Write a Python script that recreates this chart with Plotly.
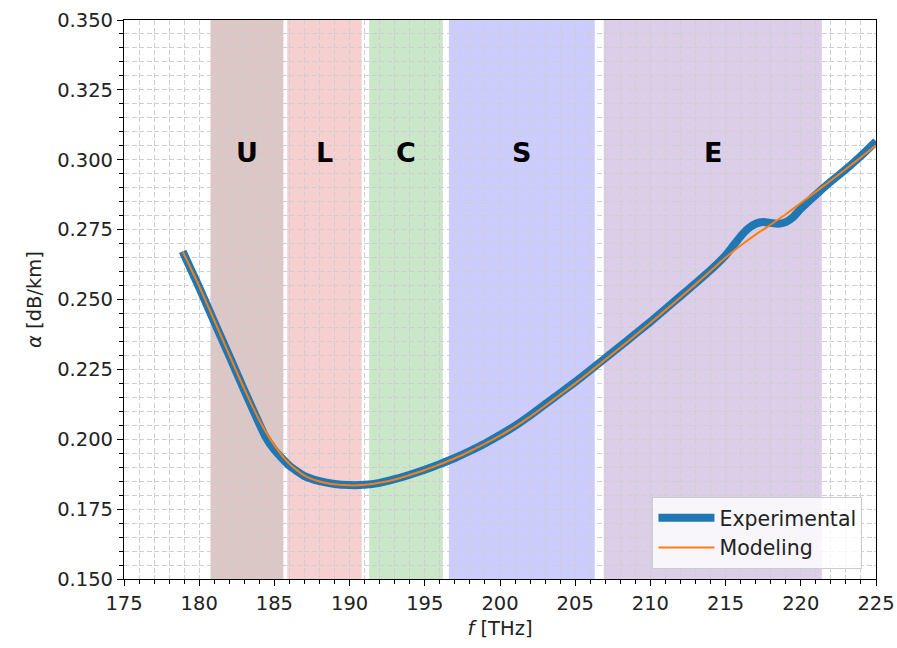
import plotly.graph_objects as go

# ---- data ----
freq_exp = [178.9, 180, 181, 182, 183, 184, 184.4, 185, 186, 187, 188, 189, 190, 191, 192,
            193, 194, 195, 196, 197, 198, 199, 200, 201, 202, 203, 204, 205, 206, 207, 208,
            209, 210, 211, 212, 213, 214, 215, 215.5, 216, 216.5, 217, 217.5, 218, 218.5,
            219, 219.5, 220, 221, 222, 223, 224, 225]
alpha_exp = [0.2672, 0.2543, 0.2420, 0.2298, 0.2175, 0.2055, 0.2010, 0.1962, 0.1905, 0.1868,
             0.1850, 0.1840, 0.1836, 0.1837, 0.1844, 0.1857, 0.1873, 0.1891, 0.1911, 0.1933,
             0.1958, 0.1985, 0.2015, 0.2048, 0.2085, 0.2125, 0.2165, 0.2205, 0.2247, 0.2290,
             0.2333, 0.2377, 0.2420, 0.2466, 0.2512, 0.2558, 0.2605, 0.2658, 0.2692, 0.2726,
             0.2754, 0.2771, 0.2777, 0.2774, 0.2771, 0.2777, 0.2795, 0.2825, 0.2875, 0.2922,
             0.2966, 0.3014, 0.3066]

freq_mod = [178.9, 180, 181, 182, 183, 184, 185, 186, 187, 188, 189, 190, 191, 192, 193, 194,
            195, 196, 197, 198, 199, 200, 201, 202, 203, 204, 205, 206, 207, 208, 209, 210,
            211, 212, 213, 214, 215, 216, 217, 218, 219, 220, 221, 222, 223, 224, 225]
alpha_mod = [0.2672, 0.2548, 0.2425, 0.2302, 0.2180, 0.2068, 0.1978, 0.1912, 0.1870, 0.1849,
             0.1839, 0.1835, 0.1837, 0.1844, 0.1856, 0.1872, 0.1890, 0.1910, 0.1932, 0.1957,
             0.1984, 0.2013, 0.2045, 0.2081, 0.2120, 0.2160, 0.2200, 0.2242, 0.2285, 0.2328,
             0.2372, 0.2417, 0.2462, 0.2508, 0.2555, 0.2602, 0.2650, 0.2693, 0.2732, 0.2768,
             0.2805, 0.2845, 0.2885, 0.2926, 0.2967, 0.3009, 0.3052]

band_names = ["U", "L", "C", "S", "E"]
band_start = [180.75, 185.85, 191.3, 196.6, 206.9]
band_end = [185.6, 190.8, 196.2, 206.3, 221.4]
band_colors = ["rgba(140,70,65,0.30)", "rgba(214,39,40,0.22)", "rgba(44,160,44,0.25)",
               "rgba(0,0,255,0.20)", "rgba(148,103,189,0.33)"]
band_label_y = 0.3025

x_ticks = [175, 180, 185, 190, 195, 200, 205, 210, 215, 220, 225]
y_ticks = [0.150, 0.175, 0.200, 0.225, 0.250, 0.275, 0.300, 0.325, 0.350]

FONT = "DejaVu Sans"
FS = 19.5

fig = go.Figure()

fig.add_trace(go.Scatter(x=freq_exp, y=alpha_exp, mode="lines", name="Experimental",
                         line=dict(color="#1f77b4", width=8, shape="spline", smoothing=0.5)))
fig.add_trace(go.Scatter(x=freq_mod, y=alpha_mod, mode="lines", name="Modeling",
                         line=dict(color="#ff7f0e", width=2, shape="spline", smoothing=0.6)))

for n, s, e, c in zip(band_names, band_start, band_end, band_colors):
    fig.add_shape(type="rect", xref="x", yref="y domain", x0=s, x1=e, y0=0, y1=1,
                  fillcolor=c, line_width=0, layer="below")
    fig.add_annotation(x=(s + e) / 2, y=band_label_y, text="<b>%s</b>" % n, showarrow=False,
                       font=dict(family=FONT, size=27, color="black"))

grid_col = "#cfcfcf"
GDASH = "5px,2.5px"
axis_common = dict(
    showline=True, linecolor="black", linewidth=1.2, mirror=True,
    ticks="outside", ticklen=6, tickwidth=1.2, tickcolor="black",
    showgrid=True, gridcolor=grid_col, gridwidth=1, griddash=GDASH,
    zeroline=False, automargin=False,
    tickfont=dict(family=FONT, size=FS, color="#222"),
)

fig.update_xaxes(range=[175, 225], tickvals=x_ticks, ticktext=[str(v) for v in x_ticks],
                 minor=dict(dtick=1, tick0=175, ticks="outside", ticklen=3.5, tickcolor="black",
                            showgrid=True, gridcolor=grid_col, griddash=GDASH, gridwidth=1),
                 title=dict(text="<i>f</i> [THz]", font=dict(family=FONT, size=FS, color="#222"),
                            standoff=7),
                 **axis_common)
fig.update_yaxes(range=[0.15, 0.35], tickvals=y_ticks, ticktext=["%.3f" % v for v in y_ticks],
                 minor=dict(dtick=0.005, tick0=0.15, ticks="outside", ticklen=3.5, tickcolor="black",
                            showgrid=True, gridcolor=grid_col, griddash=GDASH, gridwidth=1),
                 title=dict(text="<i>α</i> [dB/km]", font=dict(family=FONT, size=FS, color="#222"),
                            standoff=10),
                 **axis_common)

fig.update_layout(
    width=897, height=648,
    margin=dict(l=124, r=21, t=20, b=69, autoexpand=False),
    plot_bgcolor="white", paper_bgcolor="white",
    font=dict(family=FONT, size=FS, color="#222"),
    showlegend=True,
    legend=dict(x=0.982, y=0.018, xanchor="right", yanchor="bottom",
                bgcolor="rgba(255,255,255,0.8)", bordercolor="#cccccc", borderwidth=1,
                font=dict(family=FONT, size=20.5, color="#222"), itemwidth=56,
                tracegroupgap=0),
)

fig.write_html("out.html", config={"displayModeBar": False},
               post_script="document.body.style.margin='0px';")
